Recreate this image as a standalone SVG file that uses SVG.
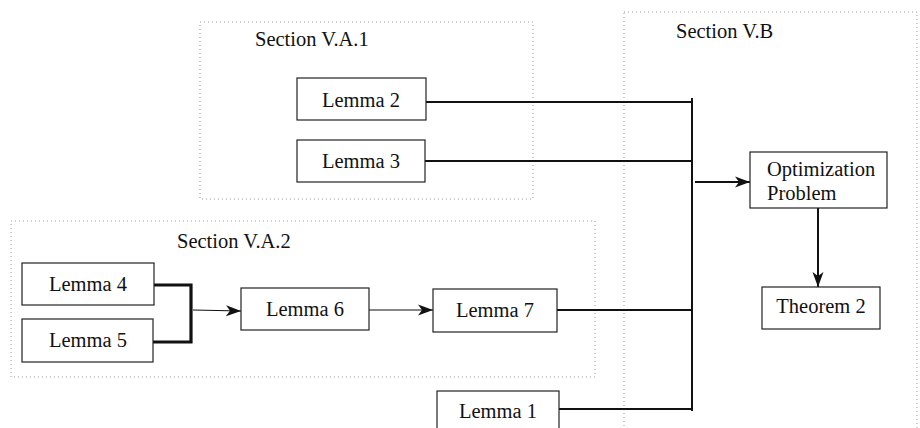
<svg xmlns="http://www.w3.org/2000/svg" width="920" height="428" viewBox="0 0 920 428">
<style>
.sec{fill:none;stroke:#999;stroke-width:1;stroke-dasharray:1 3}
.box{fill:#fff;stroke:#222;stroke-width:1.2}
.t{font-family:"Liberation Serif","Times New Roman",serif;font-size:20.5px;fill:#111}
.c{text-anchor:middle}
.w{fill:none;stroke:#111;stroke-width:2}
.th{fill:none;stroke:#111;stroke-width:1.2}
.bk{fill:none;stroke:#111;stroke-width:3.2}
</style>
<defs>
<marker id="ah" markerUnits="userSpaceOnUse" markerWidth="16" markerHeight="12" refX="15" refY="6" orient="auto">
<path d="M0,0.5 L15,6 L0,11.5 L4,6 z" fill="#111"/>
</marker>
</defs>
<g id="sections">
<g id="secA1"><rect class="sec" x="200" y="22" width="333" height="177"/><text class="t" x="255" y="46">Section V.A.1</text></g>
<g id="secA2"><rect class="sec" x="11" y="221" width="584" height="156"/><text class="t" x="177" y="248">Section V.A.2</text></g>
<g id="secB"><rect class="sec" x="624" y="12" width="293" height="430"/><text class="t" x="676" y="38">Section V.B</text></g>
</g>
<g id="connectors">
<path class="w" d="M426,102 H692 M425,161 H692 M557,310 H692 M559,409 H692 M692,98 V411"/>
<path class="w" d="M695,182 H750" marker-end="url(#ah)"/>
<path class="w" d="M818,208 V287" marker-end="url(#ah)"/>
<path class="bk" d="M154,285 H191 V342 H153"/>
<path class="th" d="M193,310 L241,311" marker-end="url(#ah)"/>
<path class="th" d="M369,310 H433" marker-end="url(#ah)"/>
</g>
<g id="lemma2"><rect class="box" x="297" y="78" width="129" height="42"/><text class="t c" x="361" y="107">Lemma 2</text></g>
<g id="lemma3"><rect class="box" x="297" y="140" width="128" height="42"/><text class="t c" x="361" y="168">Lemma 3</text></g>
<g id="lemma4"><rect class="box" x="22" y="263" width="132" height="42"/><text class="t c" x="88" y="291">Lemma 4</text></g>
<g id="lemma5"><rect class="box" x="22" y="319" width="131" height="43"/><text class="t c" x="88" y="347">Lemma 5</text></g>
<g id="lemma6"><rect class="box" x="241" y="288" width="128" height="42"/><text class="t c" x="305" y="316">Lemma 6</text></g>
<g id="lemma7"><rect class="box" x="433" y="289" width="124" height="43"/><text class="t c" x="495" y="317">Lemma 7</text></g>
<g id="lemma1"><rect class="box" x="437" y="391" width="122" height="44"/><text class="t c" x="498" y="418">Lemma 1</text></g>
<g id="opt"><rect class="box" x="750" y="152" width="137" height="56"/><text class="t" x="767" y="176">Optimization</text><text class="t" x="767" y="200">Problem</text></g>
<g id="thm2"><rect class="box" x="762" y="287" width="118" height="42"/><text class="t c" x="821" y="313">Theorem 2</text></g>
</svg>
